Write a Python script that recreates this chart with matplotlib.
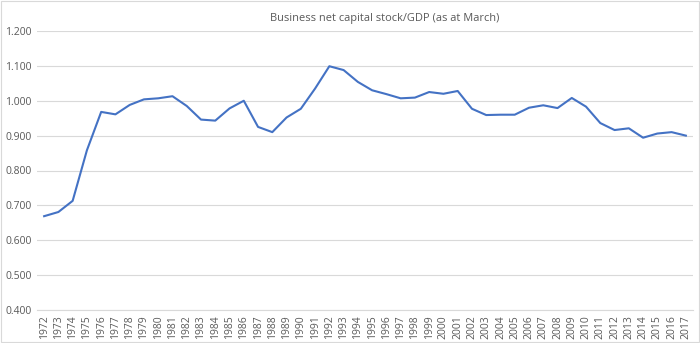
import matplotlib.pyplot as plt
import numpy as np

years = list(range(1972, 2018))
ratio = [0.669, 0.681, 0.713, 0.858, 0.968, 0.961, 0.988, 1.004, 1.007, 1.013,
         0.985, 0.946, 0.943, 0.978, 1.000, 0.925, 0.910, 0.952, 0.977, 1.035,
         1.099, 1.088, 1.054, 1.030, 1.019, 1.007, 1.009, 1.025, 1.020, 1.028,
         0.977, 0.959, 0.960, 0.960, 0.980, 0.987, 0.979, 1.008, 0.983, 0.936,
         0.916, 0.921, 0.894, 0.906, 0.910, 0.900]
yticks = [0.4, 0.5, 0.6, 0.7, 0.8, 0.9, 1.0, 1.1, 1.2]

plt.rcParams['font.family'] = ['Open Sans', 'DejaVu Sans']
txt = '#595959'

fig = plt.figure(figsize=(7, 3.43), dpi=100)
ax = fig.add_axes([37/700, 1 - 310/343, 656/700, 279/343])

ax.plot(years, ratio, color='#4472C4', linewidth=1.5, solid_joinstyle='round')

ax.set_xlim(1971.5, 2017.5)
ax.set_ylim(0.4, 1.2)
ax.set_yticks(yticks)
ax.set_yticklabels([f"{v:.3f}" for v in yticks])
ax.set_xticks(years)
ax.set_xticklabels([str(y) for y in years], rotation=90)
ax.tick_params(axis='both', length=0, colors=txt, labelsize=7.5, pad=4)
ax.grid(axis='y', color='#d9d9d9', linewidth=0.8)
ax.set_axisbelow(True)
for s in ['top', 'right', 'left']:
    ax.spines[s].set_visible(False)
ax.spines['bottom'].set_color('#d9d9d9')
ax.spines['bottom'].set_linewidth(0.8)

fig.text(385/700, 1 - 18/343, 'Business net capital stock/GDP (as at March)',
         ha='center', va='center', fontsize=7.9, color=txt)

# thin frame around the whole chart
fig.patches.append(plt.Rectangle((0.001, 0.002), 0.997, 0.995, transform=fig.transFigure,
                                 fill=False, edgecolor='#d9d9d9', linewidth=0.8))

fig.savefig('out.png', dpi=100)
